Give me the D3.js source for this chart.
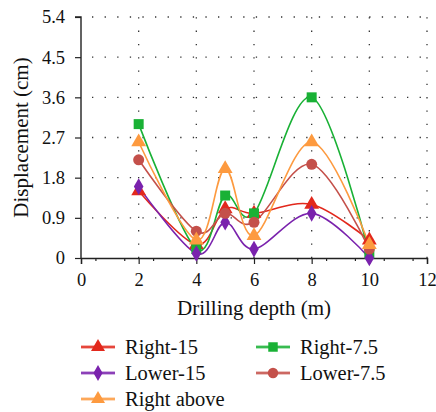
<!DOCTYPE html>
<html>
<head>
<meta charset="utf-8">
<script src="https://cdn.jsdelivr.net/npm/d3@7/dist/d3.min.js"></script>
</head>
<body style="margin:0;padding:0;background:#fff">
<svg id="chart" width="436" height="412" style="display:block"></svg>
<script>
// Drilling depths (m) where displacement was measured
const depths = [2, 4, 5, 6, 8, 10];

// Displacement (cm) for each monitoring position
const right15    = [1.5, 0.3, 1.1, 1.0, 1.2, 0.4];
const right7_5   = [3.0, 0.2, 1.4, 1.0, 3.6, 0.1];
const lower15    = [1.6, 0.1, 0.8, 0.2, 1.0, 0.0];
const lower7_5   = [2.2, 0.6, 1.0, 0.8, 2.1, 0.2];
const rightAbove = [2.6, 0.4, 2.0, 0.5, 2.6, 0.3];

const xTicks = [0, 2, 4, 6, 8, 10, 12];
const yTicks = [0, 0.9, 1.8, 2.7, 3.6, 4.5, 5.4];

const seriesList = [
  { name: "Right-15",    values: right15,    color: "#e2281c", symbol: "triangle" },
  { name: "Right-7.5",   values: right7_5,   color: "#19b135", symbol: "square" },
  { name: "Lower-15",    values: lower15,    color: "#7a22ad", symbol: "diamond" },
  { name: "Lower-7.5",   values: lower7_5,   color: "#c4504a", symbol: "circle" },
  { name: "Right above", values: rightAbove, color: "#fd9a3f", symbol: "triangle" }
];

const FONT = "'Liberation Serif', 'Times New Roman', serif";
const svg = d3.select("#chart");
const margin = { left: 81, right: 9, top: 17, bottom: 154 };
const W = 436, H = 412;
const x = d3.scaleLinear().domain([0, 12]).range([margin.left, W - margin.right]);
const y = d3.scaleLinear().domain([0, 5.4]).range([H - margin.bottom, margin.top]);

// every label gets its typeface set on the element itself
function serif(sel, size) {
  return sel.attr("font-family", FONT).attr("font-size", size)
    .style("font-family", FONT).style("font-size", size + "px").attr("fill", "#111");
}

// dotted grid
const grid = svg.append("g");
grid.selectAll("line.h").data(yTicks.filter(d => d > 0)).join("line")
  .attr("x1", x(0)).attr("x2", x(12))
  .attr("y1", d => y(d)).attr("y2", d => y(d))
  .attr("stroke", "#333").attr("stroke-width", 1.3)
  .attr("stroke-dasharray", "1.3,11.3").attr("stroke-dashoffset", -11);
grid.selectAll("line.v").data(xTicks.filter(d => d > 0)).join("line")
  .attr("x1", d => x(d)).attr("x2", d => x(d))
  .attr("y1", y(0)).attr("y2", y(5.4))
  .attr("stroke", "#333").attr("stroke-width", 1.3)
  .attr("stroke-dasharray", "1.3,12");

// axes
const xAxis = svg.append("g").attr("transform", `translate(0,${y(0)})`)
  .call(d3.axisBottom(x).tickValues(xTicks).tickSize(6).tickPadding(9).tickFormat(d3.format("d")));
const xMinor = svg.append("g").attr("transform", `translate(0,${y(0)})`)
  .call(d3.axisBottom(x).tickValues(d3.range(0.5, 12, 1)).tickSize(3).tickFormat(""));
xMinor.select(".domain").remove();
xMinor.selectAll("text").remove();
const yAxis = svg.append("g").attr("transform", `translate(${x(0)},0)`)
  .call(d3.axisLeft(y).tickValues(yTicks).tickSize(6).tickPadding(10)
    .tickFormat(d => d === 0 ? "0" : d3.format(".1f")(d)));
[xAxis, yAxis, xMinor].forEach(g => {
  g.attr("font-family", null).attr("font-size", null);
  g.selectAll(".domain").attr("stroke", "#222").attr("stroke-width", 1.4);
  g.selectAll(".tick line").attr("stroke", "#222").attr("stroke-width", 1.2);
  serif(g.selectAll("text"), 18.5);
});
yAxis.select(".domain").attr("d", `M-6,${y(5.4)}H0V${y(0)}`);

// axis titles
serif(svg.append("text").attr("x", x(6)).attr("y", 315).attr("text-anchor", "middle"), 21)
  .text("Drilling depth (m)");
serif(svg.append("text").attr("transform", `translate(28,${(y(0) + y(5.4)) / 2}) rotate(-90)`)
  .attr("text-anchor", "middle"), 21).text("Displacement (cm)");

const symbolType = {
  triangle: d3.symbolTriangle, square: d3.symbolSquare,
  diamond: d3.symbolDiamond, circle: d3.symbolCircle
};
const symbolSize = { triangle: 95, square: 100, diamond: 80, circle: 95 };

const line = d3.line().curve(d3.curveCardinal.tension(0))
  .x((d, i) => x(depths[i])).y(d => y(d));

const plot = svg.append("g");
seriesList.forEach(s => {
  plot.append("path").attr("d", line(s.values)).attr("fill", "none")
    .attr("stroke", s.color).attr("stroke-width", 1.6);
});
seriesList.forEach(s => {
  plot.selectAll(null).data(s.values).join("path")
    .attr("transform", (d, i) => `translate(${x(depths[i])},${y(d)})`)
    .attr("d", d3.symbol(symbolType[s.symbol], symbolSize[s.symbol]))
    .attr("fill", s.color);
});

// legend
const legendPos = [[81, 347], [256, 347], [81, 373], [256, 373], [81, 399]];
const legendOrder = ["Right-15", "Right-7.5", "Lower-15", "Lower-7.5", "Right above"];
legendOrder.forEach((name, k) => {
  const s = seriesList.find(v => v.name === name);
  const [lx, ly] = legendPos[k];
  const g = svg.append("g").attr("transform", `translate(${lx},${ly})`);
  g.append("line").attr("x1", 0).attr("x2", 34).attr("stroke", s.color)
    .attr("stroke-width", 3.5).attr("stroke-opacity", 0.45);
  g.append("line").attr("x1", 0).attr("x2", 34).attr("stroke", s.color).attr("stroke-width", 1.5);
  g.append("path").attr("transform", "translate(17,0)")
    .attr("d", d3.symbol(symbolType[s.symbol], symbolSize[s.symbol] * 0.9)).attr("fill", s.color);
  serif(g.append("text").attr("x", 44).attr("y", 7), 20.5).text(s.name);
});
</script>
</body>
</html>
